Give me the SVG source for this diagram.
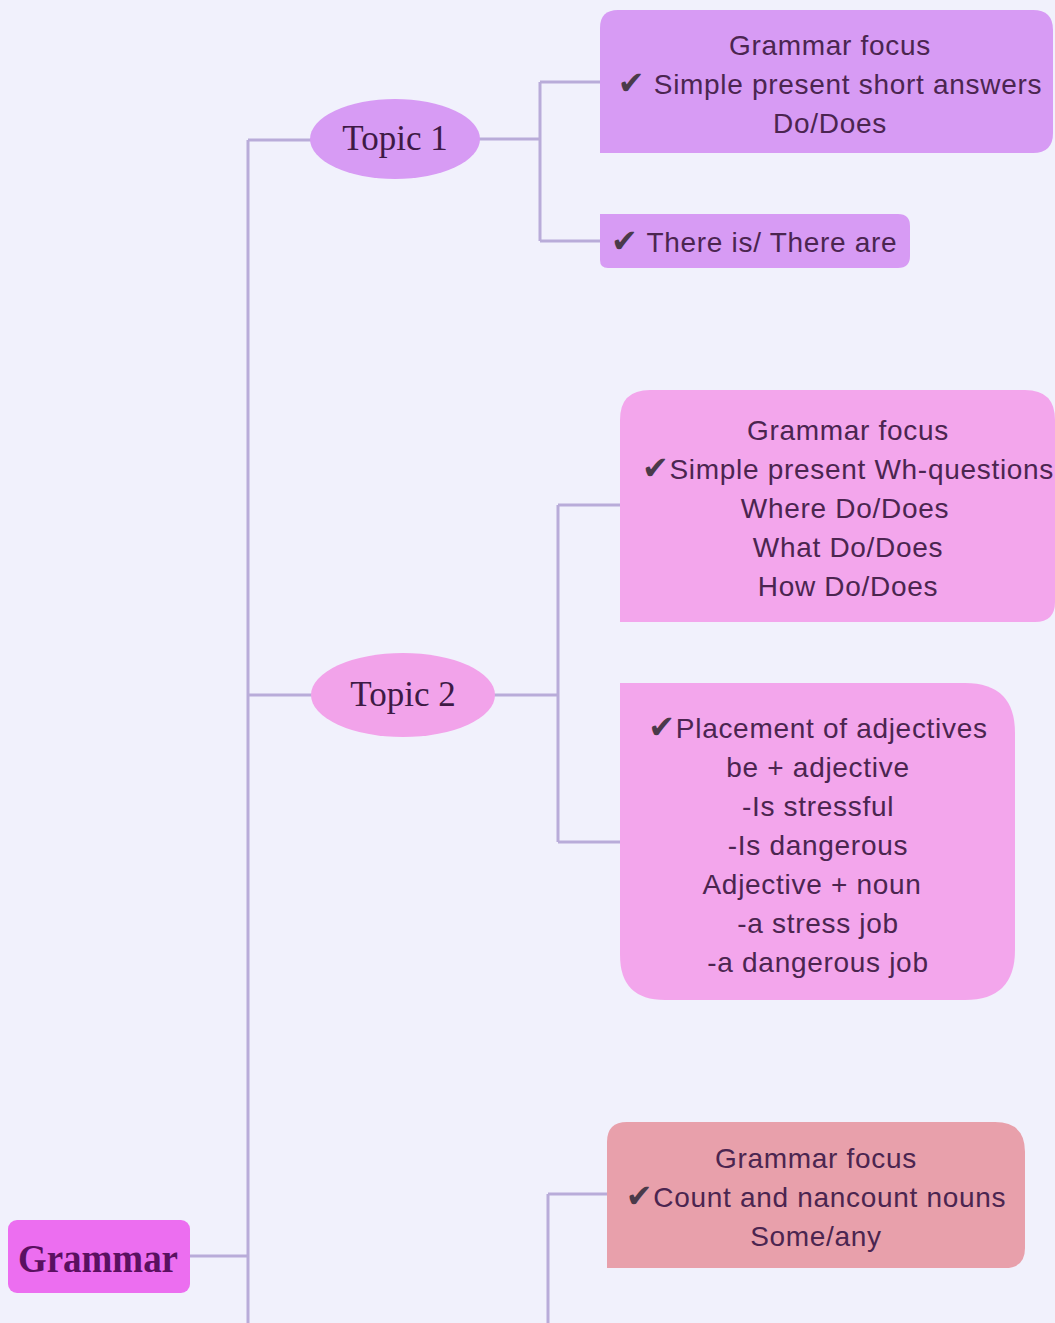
<svg xmlns="http://www.w3.org/2000/svg" width="1055" height="1323" viewBox="0 0 1055 1323">
<style>
.bg{fill:#f1f1fc}
.conn{fill:none;stroke:#b9acd9;stroke-width:3}
.lav{fill:#d79bf4}
.pink{fill:#f3a6ec}
.rose{fill:#e8a0ab}
.t{font-family:"Liberation Sans",Arial,sans-serif;font-size:28px;fill:#4b2550;text-anchor:middle;letter-spacing:0.7px}
.tl{font-family:"Liberation Sans",Arial,sans-serif;font-size:28px;fill:#4b2550;letter-spacing:0.7px}
.ck{font-family:"DejaVu Sans",sans-serif;font-size:32px;fill:#4a3a4a}
.topic{font-family:"Liberation Serif","DejaVu Serif",serif;font-size:35px;fill:#3e1a45;text-anchor:middle}
</style>
<rect class="bg" x="0" y="0" width="1055" height="1323"/>
<g id="connectors">
<path class="conn" d="M190,1256 H248"/>
<path class="conn" d="M248,140 V1323"/>
<path class="conn" d="M248,140 H312"/>
<path class="conn" d="M478,139 H540 M540,82 V241 M540,82 H600 M540,241 H600"/>
<path class="conn" d="M248,695 H312"/>
<path class="conn" d="M494,695 H558 M558,505 V842 M558,505 H620 M558,842 H620"/>
<path class="conn" d="M548,1194 V1323 M548,1194 H607"/>
</g>
<g id="grammar">
<rect x="8" y="1220" width="182" height="73" rx="9" fill="#ec6ef0"/>
<text x="98" y="1272" font-family="Liberation Serif,serif" font-size="39" font-weight="bold" fill="#5a1060" text-anchor="middle" textLength="160" lengthAdjust="spacingAndGlyphs">Grammar</text>
</g>
<g id="topic1">
<ellipse class="lav" cx="395" cy="139" rx="85" ry="40"/>
<text class="topic" x="395" y="150">Topic 1</text>
</g>
<g id="topic2">
<ellipse fill="#f2a3ea" cx="403" cy="695" rx="92" ry="42"/>
<text class="topic" x="403" y="706">Topic 2</text>
</g>
<g id="box1">
<path class="lav" d="M600,153 V28 Q600,10 618,10 H1033 Q1053,10 1053,30 V133 Q1053,153 1033,153 Z"/>
<text class="t" x="830" y="55">Grammar focus</text>
<text class="t" x="830" y="94"><tspan class="ck">✔</tspan> Simple present short answers</text>
<text class="t" x="830" y="133">Do/Does</text>
</g>
<g id="box2">
<path class="lav" d="M600,268 V214 H898 Q910,214 910,226 V256 Q910,268 898,268 H608 Q600,268 600,260 Z"/>
<text class="tl" x="611" y="252"><tspan class="ck">✔</tspan> There is/ There are</text>
</g>
<g id="box3">
<path class="pink" d="M620,622 V420 Q620,390 650,390 H1025 Q1055,390 1055,420 V602 Q1055,622 1035,622 Z"/>
<text class="t" x="848" y="440">Grammar focus</text>
<text class="t" x="848" y="479"><tspan class="ck">✔</tspan>Simple present Wh-questions</text>
<text class="t" x="845" y="518">Where Do/Does</text>
<text class="t" x="848" y="557">What Do/Does</text>
<text class="t" x="848" y="596">How Do/Does</text>
</g>
<g id="box4">
<path class="pink" d="M620,683 H965 Q1015,683 1015,733 V950 Q1015,1000 965,1000 H665 Q620,1000 620,955 Z"/>
<text class="t" x="818" y="738"><tspan class="ck">✔</tspan>Placement of adjectives</text>
<text class="t" x="818" y="777">be + adjective</text>
<text class="t" x="818" y="816">-Is stressful</text>
<text class="t" x="818" y="855">-Is dangerous</text>
<text class="t" x="812" y="894">Adjective + noun</text>
<text class="t" x="818" y="933">-a stress job</text>
<text class="t" x="818" y="972">-a dangerous job</text>
</g>
<g id="box5">
<path class="rose" d="M607,1268 V1142 Q607,1122 627,1122 H995 Q1025,1122 1025,1152 V1248 Q1025,1268 1005,1268 Z"/>
<text class="t" x="816" y="1168">Grammar focus</text>
<text class="t" x="816" y="1207"><tspan class="ck">✔</tspan>Count and nancount nouns</text>
<text class="t" x="816" y="1246">Some/any</text>
</g>
</svg>
